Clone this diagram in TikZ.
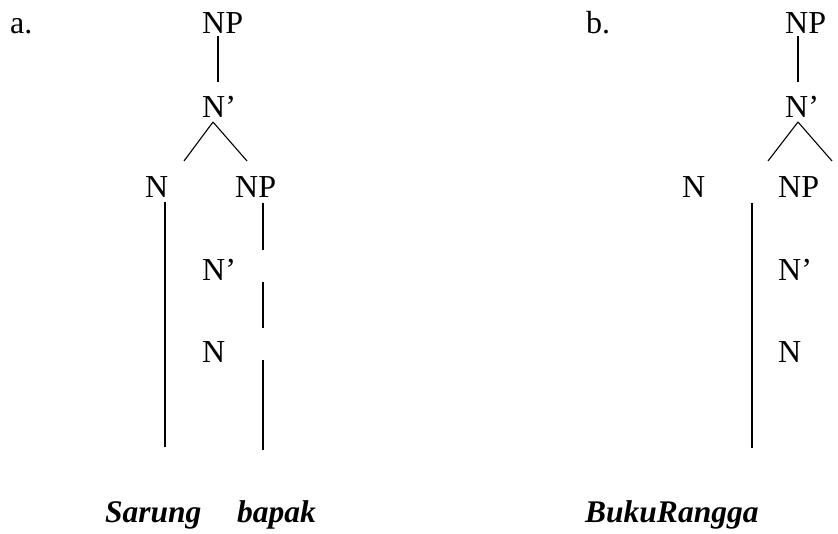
\documentclass[tikz,border=0pt]{standalone}
\usepackage{fontspec}
\setmainfont{Liberation Serif}
\tikzset{
  lab/.style={inner sep=0pt, anchor=base west},
  word/.style={inner sep=0pt, anchor=base west, font=\fontsize{31.5}{36}\selectfont\bfseries\itshape},
  br/.style={line width=1.1pt}
}
\begin{document}
\begin{tikzpicture}[x=1pt,y=-1pt,font=\fontsize{32}{38}\selectfont]
  \useasboundingbox (0,0) rectangle (838,533);
  % tree a
  \node[lab] (la) at (10,33) {a.};
  \node[lab] (aNP) at (202,33) {NP};
  \node[lab] (aNb) at (202,117) {N’};
  \node[lab] (aN) at (145,197) {N};
  \node[lab] (aNP2) at (235,197) {NP};
  \node[lab] (aNb2) at (202,280) {N’};
  \node[lab] (aN2) at (202,362) {N};
  \node[word] (aw1) at (105,522) {Sarung};
  \node[word] (aw2) at (237,522) {bapak};
  \coordinate (atop) at (218,82);
  \coordinate (aapex) at (213,122);
  \coordinate (al) at (184,161);
  \coordinate (ar) at (247,161);
  \coordinate (ax1) at (165,447);
  \coordinate (ax2) at (263,450);
  \draw[br] ([yshift=-3pt]atop |- aNP.south) -- (atop);
  \draw[br] (aapex) -- (al);
  \draw[br] (aapex) -- (ar);
  \draw[br] (ax1 |- 0,202) -- (ax1);
  \draw[br] (ax2 |- 0,203) -- (ax2 |- 0,250);
  \draw[br] (ax2 |- 0,282) -- (ax2 |- 0,328);
  \draw[br] (ax2 |- 0,360) -- (ax2);

  % tree b
  \node[lab] (lb) at (586,33) {b.};
  \node[lab] (bNP) at (785,33) {NP};
  \node[lab] (bNb) at (785,117) {N’};
  \node[lab] (bN) at (682,197) {N};
  \node[lab] (bNP2) at (778,197) {NP};
  \node[lab] (bNb2) at (778,280) {N’};
  \node[lab] (bN2) at (778,362) {N};
  \node[word] (bw) at (585,522) {BukuRangga};
  \coordinate (btop) at (798,82);
  \coordinate (bapex) at (798,122);
  \coordinate (bl) at (768,161);
  \coordinate (br) at (832,161);
  \coordinate (bx) at (752,448);
  \draw[br] ([yshift=-3pt]btop |- bNP.south) -- (btop);
  \draw[br] (bapex) -- (bl);
  \draw[br] (bapex) -- (br);
  \draw[br] (bx |- 0,203) -- (bx);
\end{tikzpicture}
\end{document}
